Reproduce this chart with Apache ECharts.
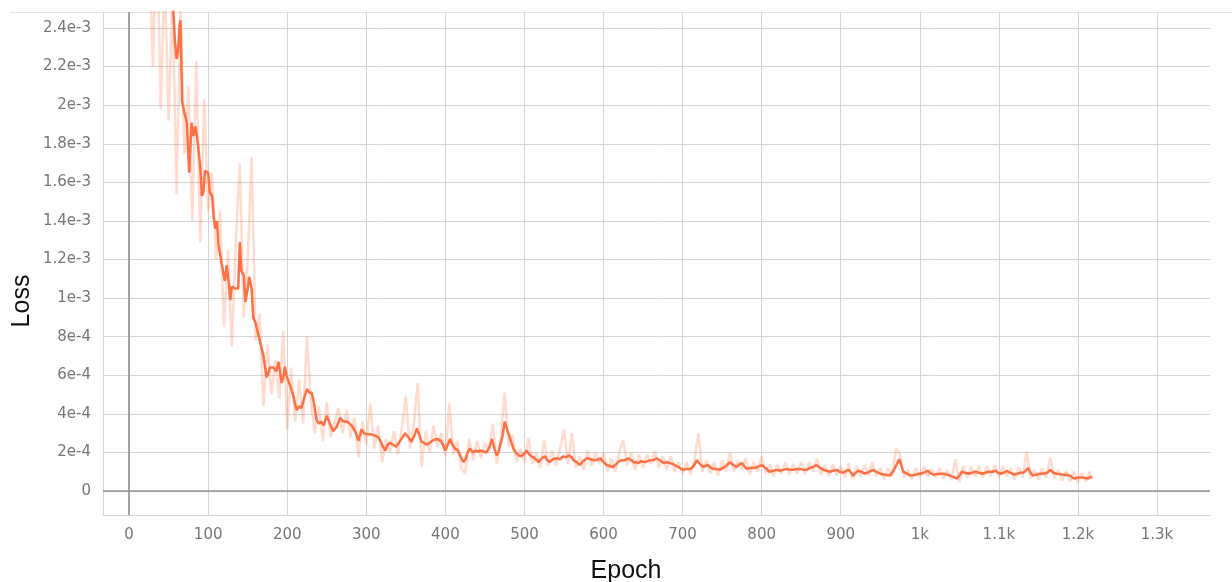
<!DOCTYPE html>
<html>
<head>
<meta charset="utf-8">
<title>Training loss</title>
<script src="https://cdn.jsdelivr.net/npm/echarts@6/dist/echarts.min.js"></script>
<style>
  html, body { margin: 0; padding: 0; background: #ffffff; }
  #chart { width: 1232px; height: 582px; }
</style>
</head>
<body>
<div id="chart"></div>
<script>
// Loss values are stored in units of 1e-4.

// Smoothed (EMA) training loss
const smoothEpochs = [5,15,25,35,45,52,56,58,60,62,64,65,66,67,70,73,76,79,81,84,87,90,92,94,96,100,102,105,107,109,111,113,117,119,121,123.5,126,128,130,134,138,140,142,145,147,150,152,155,157,160,163,167,170,172,174,176,178,183,186,189,191,193,195,197,199,201,205,208,210,212,215,218,220,222,225,228,231,234,237,240,243,246,250,252,255,258,262,267,271,275,279,283,287,290,294,297,300,305,309,312,315,318,321,324,327,330,334,338,341,343,346,349,351,353,355,357,361,364,367,370,373,376,380,385,389,393,397,400,403,406,409,412,415,418,421,423,426,428,431,435,438,441,444,448,452,456,459,462,465,467,469,472,475,478,482,486,490,493,496,500,503,506,509,513,518,522,526,529,532,536,541,545,549,553,556,558,560,562,566,570,574,579,584,588,591,596,600,604,608,612,616,620,623,627,631,635,638,641,644,648,652,656,659,663,667,671,676,680,684,688,692,695,698,701,705,710,714,718,722,726,729,732,736,739,743,747,751,755,760,764,768,771,775,778,781,785,790,795,800,805,810,815,819,823,827,832,836,840,844,848,853,857,861,865,869,874,878,882,886,890,895,899,903,907,910,913,916,919,922,926,931,936,941,945,950,956,962,965,968,971,974,977,979,984,988,994,1000,1005,1010,1013,1017,1022,1026,1030,1034,1038,1043,1047,1050,1053,1057,1062,1066,1070,1075,1079,1083,1087,1092,1096,1099,1102,1106,1110,1114,1119,1123,1127,1131,1134,1137,1140,1143,1147,1152,1156,1161,1165,1169,1173,1177,1181,1185,1190,1193,1196,1200,1205,1209,1213,1216,1218];
const smoothLoss = [55,47,40,34,29.5,26.5,24.8,23.3,22.4,22.8,24.2,24.4,22.5,20.2,19.6,19.1,16.5,19.1,18.4,18.9,18.0,16.8,15.3,15.5,16.6,16.5,15.5,15.3,14.2,13.6,14.0,12.8,11.8,11.9,10.9,11.7,10.8,9.9,10.6,10.5,10.5,12.9,11.4,11.2,9.8,10.5,11.1,10.5,9.0,8.7,8.2,7.5,7.0,6.4,5.9,6.1,6.4,6.4,6.2,6.7,6.1,5.6,5.9,6.45,6.0,6.1,5.3,4.9,4.5,4.2,4.4,4.3,4.4,4.9,5.3,5.1,5.1,4.5,3.7,3.5,3.6,3.4,3.9,3.8,3.4,3.1,3.3,3.8,3.6,3.6,3.5,3.3,3.0,2.6,3.2,3.0,2.95,2.95,2.9,2.85,2.8,2.6,2.3,2.1,2.4,2.5,2.4,2.3,2.5,2.55,2.8,3.0,2.9,2.8,2.7,2.55,2.9,3.25,2.9,2.55,2.5,2.4,2.5,2.65,2.7,2.65,2.4,2.1,2.4,2.7,2.4,2.2,2.15,1.9,1.65,1.5,1.7,2.0,2.2,2.0,2.1,2.05,2.1,2.05,2.0,2.3,2.7,2.2,1.85,2.0,2.1,2.8,3.6,3.2,2.7,2.2,1.95,1.85,1.8,1.95,2.1,1.9,1.8,1.7,1.5,1.7,1.8,1.6,1.5,1.65,1.7,1.65,1.8,1.75,1.85,1.85,1.75,1.6,1.5,1.35,1.55,1.7,1.65,1.6,1.6,1.7,1.5,1.35,1.3,1.25,1.4,1.55,1.6,1.6,1.7,1.6,1.5,1.5,1.45,1.55,1.5,1.55,1.6,1.6,1.7,1.6,1.45,1.5,1.45,1.4,1.3,1.25,1.15,1.1,1.15,1.15,1.3,1.6,1.4,1.25,1.3,1.35,1.2,1.15,1.15,1.1,1.2,1.3,1.5,1.35,1.25,1.35,1.45,1.3,1.15,1.2,1.2,1.25,1.35,1.2,1.0,1.05,1.1,1.05,1.1,1.15,1.1,1.1,1.15,1.15,1.1,1.1,1.2,1.25,1.35,1.2,1.1,1.05,1.0,1.05,1.1,1.0,0.95,1.05,1.1,0.95,0.8,0.95,1.05,1.0,0.9,1.0,1.1,1.0,0.9,0.85,0.8,0.95,1.15,1.4,1.65,1.3,1.0,0.9,0.8,0.85,0.9,0.95,1.05,0.95,0.85,0.88,0.9,0.9,0.85,0.8,0.72,0.65,0.8,1.0,0.95,0.9,0.95,1.0,0.95,0.9,0.95,1.0,1.0,1.05,0.95,0.9,0.95,1.05,0.95,0.85,0.9,0.95,0.95,1.05,1.2,0.95,0.8,0.85,0.9,0.9,0.95,1.1,0.95,0.9,0.88,0.85,0.85,0.8,0.7,0.65,0.7,0.7,0.68,0.65,0.72,0.75];

// Raw training loss
const rawEpochs = [20,25,30,35,40,45,50,55,60,65,70,75,80,85,90,95,100,105,110,115,120,125,130,135,140,145,150,155,160,165,170,175,180,185,190,195,200,205,210,215,220,225,230,235,240,245,250,255,260,265,270,275,280,285,290,295,300,305,310,315,320,325,330,335,340,345,350,355,360,365,370,375,380,385,390,395,400,405,410,415,420,425,430,435,440,445,450,455,460,465,470,475,480,485,490,495,500,505,510,515,520,525,530,535,540,545,550,555,560,565,570,575,580,585,590,595,600,605,610,615,620,625,630,635,640,645,650,655,660,665,670,675,680,685,690,695,700,705,710,715,720,725,730,735,740,745,750,755,760,765,770,775,780,785,790,795,800,805,810,815,820,825,830,835,840,845,850,855,860,865,870,875,880,885,890,895,900,905,910,915,920,925,930,935,940,945,950,955,960,965,970,975,980,985,990,995,1000,1005,1010,1015,1020,1025,1030,1035,1040,1045,1050,1055,1060,1065,1070,1075,1080,1085,1090,1095,1100,1105,1110,1115,1120,1125,1130,1135,1140,1145,1150,1155,1160,1165,1170,1175,1180,1185,1190,1195,1200,1205,1210,1215,1218];
const rawLoss = [34,29,22,30,19.8,27,19.2,26,15.4,25,17.5,21,14.0,22.3,12.9,20.3,14.5,16.5,12.0,14.5,8.5,12.5,7.5,13.0,17.0,9.0,12.0,17.3,7.8,9.2,4.4,7.6,5.0,6.8,4.8,8.3,3.2,6.4,3.6,5.75,3.5,8.0,4.6,3.0,4.4,2.6,4.6,2.8,3.6,4.3,3.0,4.2,2.8,3.8,1.75,3.6,2.4,4.55,2.2,3.4,1.5,2.7,2.0,3.1,1.9,3.3,4.9,2.2,3.4,5.6,1.25,3.1,2.0,3.4,2.3,3.0,1.8,4.55,1.9,2.6,1.2,0.9,2.7,1.6,2.6,1.7,2.5,2.0,3.5,1.4,2.8,5.1,2.3,2.9,1.5,2.2,1.5,2.75,1.4,2.0,1.2,2.65,1.3,2.1,1.3,2.2,3.2,1.4,3.0,1.2,1.8,1.1,2.1,1.3,2.0,1.4,2.0,1.0,1.7,1.0,2.0,2.65,1.3,2.0,1.1,1.9,1.2,1.9,1.4,2.1,1.2,1.8,1.1,1.8,1.0,1.5,0.9,1.5,0.85,1.6,3.0,1.0,1.6,0.9,1.5,0.8,1.6,1.0,2.0,1.0,1.6,1.1,1.7,0.85,1.5,1.0,1.8,0.9,1.4,0.75,1.4,0.9,1.5,0.85,1.4,0.9,1.5,0.85,1.5,1.0,1.7,0.85,1.35,0.75,1.4,0.8,1.3,0.7,1.45,0.6,1.3,0.75,1.35,0.8,1.5,0.75,1.2,0.6,1.2,0.75,2.2,1.9,0.7,1.1,0.6,1.2,0.7,1.3,0.75,1.15,0.7,1.2,0.65,1.1,0.6,1.65,0.45,1.3,0.7,1.25,0.75,1.3,0.7,1.3,0.75,1.35,0.7,1.3,0.75,1.2,0.6,1.25,0.7,2.05,0.65,1.1,0.6,1.2,0.7,1.75,0.65,1.1,0.55,1.05,0.5,1.0,0.45,0.95,0.5,1.0,0.6];

// Axis ticks
const xTickStep = 100;
const yTickStep = 2e-4;
const LOSS_UNIT = 1e-4;

const toPairs = (epochs, values) => epochs.map((e, i) => [e, values[i] * LOSS_UNIT]);

const chart = echarts.init(document.getElementById('chart'), null, { renderer: 'canvas' });

const gridColor = '#d4d4d4';
const labelColor = '#777777';
const labelFont = 'DejaVu Sans';

function fmtX(v) {
  return v >= 1000 ? (v / 1000) + 'k' : String(v);
}
function fmtY(v) {
  if (Math.abs(v) < 1e-12) return '0';
  return Number(v.toPrecision(4)).toExponential();
}

chart.setOption({
  animation: false,
  backgroundColor: '#ffffff',
  grid: { left: 103, right: 22, top: 12, bottom: 67, containLabel: false },
  xAxis: {
    type: 'value',
    min: -33,
    max: 1367,
    minInterval: xTickStep,
    maxInterval: xTickStep,
    splitNumber: 14,
    axisLine: { show: false },
    axisTick: { show: false },
    axisLabel: {
      color: labelColor, fontFamily: labelFont, fontSize: 15, margin: 13,
      formatter: fmtX, showMinLabel: false, showMaxLabel: false
    },
    splitLine: { show: true, showMaxLine: false, lineStyle: { color: gridColor, width: 1 } }
  },
  yAxis: {
    type: 'value',
    min: -1.24e-4,
    max: 2.483e-3,
    minInterval: yTickStep,
    maxInterval: yTickStep,
    splitNumber: 13,
    axisLine: { show: false },
    axisTick: { show: true, length: 6, lineStyle: { color: gridColor } },
    axisLabel: {
      color: labelColor, fontFamily: labelFont, fontSize: 15, margin: 12,
      formatter: fmtY, showMinLabel: false, showMaxLabel: false
    },
    splitLine: { show: true, showMaxLine: false, lineStyle: { color: gridColor, width: 1 } }
  },
  series: [
    {
      name: 'raw',
      type: 'line',
      data: toPairs(rawEpochs, rawLoss),
      showSymbol: false,
      clip: true,
      silent: true,
      z: 3,
      lineStyle: { color: 'rgba(255,112,67,0.25)', width: 2.5 },
      markLine: {
        silent: true,
        symbol: 'none',
        label: { show: false },
        lineStyle: { color: '#929292', width: 1.6, type: 'solid' },
        data: [{ xAxis: 0 }, { yAxis: 0 }]
      }
    },
    {
      name: 'smoothed',
      type: 'line',
      data: toPairs(smoothEpochs, smoothLoss),
      showSymbol: false,
      clip: true,
      silent: true,
      z: 4,
      lineStyle: { color: '#ff7043', width: 2.5 }
    }
  ],
  graphic: [
    {
      type: 'line',
      shape: { x1: 10, y1: 12.5, x2: 1232, y2: 12.5 },
      style: { stroke: '#e2e2e2', lineWidth: 1 },
      silent: true
    },
    {
      type: 'text',
      x: 22, y: 301,
      rotation: Math.PI / 2,
      style: {
        text: 'Loss', fill: '#111111',
        font: '25px "Liberation Sans", Arial, sans-serif',
        align: 'center', verticalAlign: 'middle'
      },
      silent: true
    },
    {
      type: 'text',
      x: 626, y: 571,
      style: {
        text: 'Epoch', fill: '#111111',
        font: '25px "Liberation Sans", Arial, sans-serif',
        align: 'center', verticalAlign: 'middle'
      },
      silent: true
    }
  ]
});
</script>
</body>
</html>
